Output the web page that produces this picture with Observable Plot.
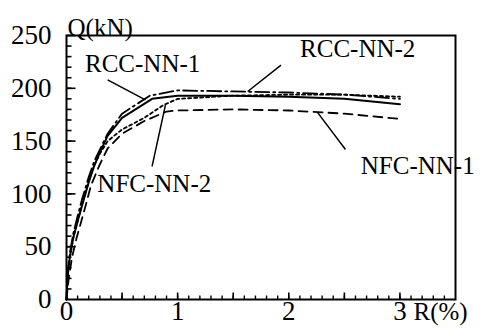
<!DOCTYPE html>
<html><head><meta charset="utf-8">
<script src="https://cdn.jsdelivr.net/npm/d3@7"></script>
<script src="https://cdn.jsdelivr.net/npm/@observablehq/plot@0.6"></script>
<style>body{margin:0;background:#fff}</style>
</head><body><div id="chart"></div>
<script>
// Drift ratio R (%) and shear Q (kN) per specimen
const rcc1R = [0, 0.01, 0.03, 0.06, 0.1, 0.14, 0.2, 0.25, 0.3, 0.37, 0.5, 0.77, 1.0, 1.5, 2.0, 2.5, 3.0];
const rcc1Q = [0, 22, 40, 58, 74, 89, 111, 127, 139, 155, 172, 190, 193, 193, 192, 190, 185];
const rcc2R = [0, 0.01, 0.03, 0.06, 0.1, 0.14, 0.2, 0.25, 0.3, 0.37, 0.5, 0.75, 1.0, 1.5, 2.0, 2.5, 3.0];
const rcc2Q = [0, 25, 44, 62, 79, 95, 116, 131, 142, 157, 176, 193, 198, 197, 196, 194, 190];
const nfc1R = [0, 0.02, 0.05, 0.09, 0.13, 0.17, 0.22, 0.3, 0.37, 0.5, 0.7, 0.9, 1.0, 1.5, 2.0, 2.5, 3.0];
const nfc1Q = [0, 20, 40, 58, 73, 88, 108, 128, 143, 157, 169, 178, 179, 180, 179, 176, 171];
const nfc2R = [0, 0.01, 0.03, 0.06, 0.1, 0.14, 0.2, 0.25, 0.3, 0.37, 0.5, 0.7, 0.87, 1.0, 1.5, 2.0, 2.5, 3.0];
const nfc2Q = [0, 21, 40, 58, 74, 90, 112, 127, 138, 150, 161, 172, 184, 190, 193, 194, 194, 192];

const seriesNames = ["RCC-NN-1", "RCC-NN-2", "NFC-NN-1", "NFC-NN-2"];
const xTickLabels = [0, 1, 2, 3];
const yTickLabels = [0, 50, 100, 150, 200, 250];

// label anchor and leader-line points (data units)
const labelR = [0.685, 2.62, 3.16, 0.79];
const labelQ = [223, 237, 126, 109];
const leadR1 = [0.37, 1.93, 2.26, 0.77];
const leadQ1 = [208, 222, 177, 126];
const leadR2 = [0.71, 1.63, 2.51, 0.89];
const leadQ2 = [189, 197, 142, 184];

const toPts = (R, Q) => R.map((r, i) => ({R: r, Q: Q[i]}));
const labels = seriesNames.map((n, i) => ({name: n, R: labelR[i], Q: labelQ[i]}));
const leaders = seriesNames.map((n, i) => ({x1: leadR1[i], y1: leadQ1[i], x2: leadR2[i], y2: leadQ2[i]}));

const xMinor = d3.range(1, 35).map(i => i / 10);
const xMajor = d3.range(1, 7).map(i => i / 2);
const yMinor = d3.range(1, 25).map(i => i * 10);
const yMajor = yTickLabels.slice(1);

const W = 484, H = 331, mL = 66, mR = 29, mT = 35, mB = 32;
const pxPerQ = (H - mT - mB) / 250;       // pixels per kN
const pxPerR = (W - mL - mR) / 3.5;       // pixels per %

const xTicks = (vals, len) => vals.map(v => ({x1: v, x2: v, y1: 0, y2: len / pxPerQ}));
const yTicks = (vals, len) => vals.map(v => ({x1: 0, x2: len / pxPerR, y1: v, y2: v}));

const font = "'Liberation Serif', 'Times New Roman', serif";

const chart = Plot.plot({
  width: W, height: H,
  marginLeft: mL, marginRight: mR, marginTop: mT, marginBottom: mB,
  style: {fontFamily: font, background: "#fff", color: "black"},
  x: {domain: [0, 3.5], axis: null},
  y: {domain: [0, 250], axis: null},
  marks: [
    Plot.frame({strokeWidth: 2, stroke: "black", fill: "none"}),
    Plot.link(xTicks(xMinor, 4), {x1: "x1", x2: "x2", y1: "y1", y2: "y2", stroke: "black", strokeWidth: 1.4}),
    Plot.link(xTicks(xMajor, 7), {x1: "x1", x2: "x2", y1: "y1", y2: "y2", stroke: "black", strokeWidth: 1.6}),
    Plot.link(yTicks(yMinor, 5), {x1: "x1", x2: "x2", y1: "y1", y2: "y2", stroke: "black", strokeWidth: 1.6}),
    Plot.link(yTicks(yMajor, 9), {x1: "x1", x2: "x2", y1: "y1", y2: "y2", stroke: "black", strokeWidth: 1.6}),
    Plot.line(toPts(nfc1R, nfc1Q), {x: "R", y: "Q", strokeWidth: 1.8, strokeDasharray: "9,6"}),
    Plot.line(toPts(nfc2R, nfc2Q), {x: "R", y: "Q", strokeWidth: 1.8, strokeDasharray: "3,3"}),
    Plot.line(toPts(rcc2R, rcc2Q), {x: "R", y: "Q", strokeWidth: 1.8, strokeDasharray: "14,4,2,4"}),
    Plot.line(toPts(rcc1R, rcc1Q), {x: "R", y: "Q", strokeWidth: 2}),
    Plot.link(leaders, {x1: "x1", y1: "y1", x2: "x2", y2: "y2", strokeWidth: 1.5}),
    Plot.text(xTickLabels, {x: d => d, text: d => String(d), frameAnchor: "bottom", lineAnchor: "middle", dy: 12, fontSize: 27, fill: "black"}),
    Plot.text(yTickLabels, {y: d => d, text: d => String(d), frameAnchor: "left", lineAnchor: "middle", textAnchor: "end", dx: -15, fontSize: 27, fill: "black"}),
    Plot.text(labels, {x: "R", y: "Q", text: "name", fontSize: 25, fill: "black"}),
    Plot.text(["Q(kN)"], {frameAnchor: "top-left", text: d => d, textAnchor: "start", dx: 1, dy: -17, fontSize: 25, fill: "black"}),
    Plot.text(["R(%)"], {frameAnchor: "bottom-right", lineAnchor: "middle", text: d => d, textAnchor: "start", dx: -42, dy: 12, fontSize: 25, fill: "black"})
  ]
});
document.getElementById("chart").appendChild(chart);
</script>
</body></html>
